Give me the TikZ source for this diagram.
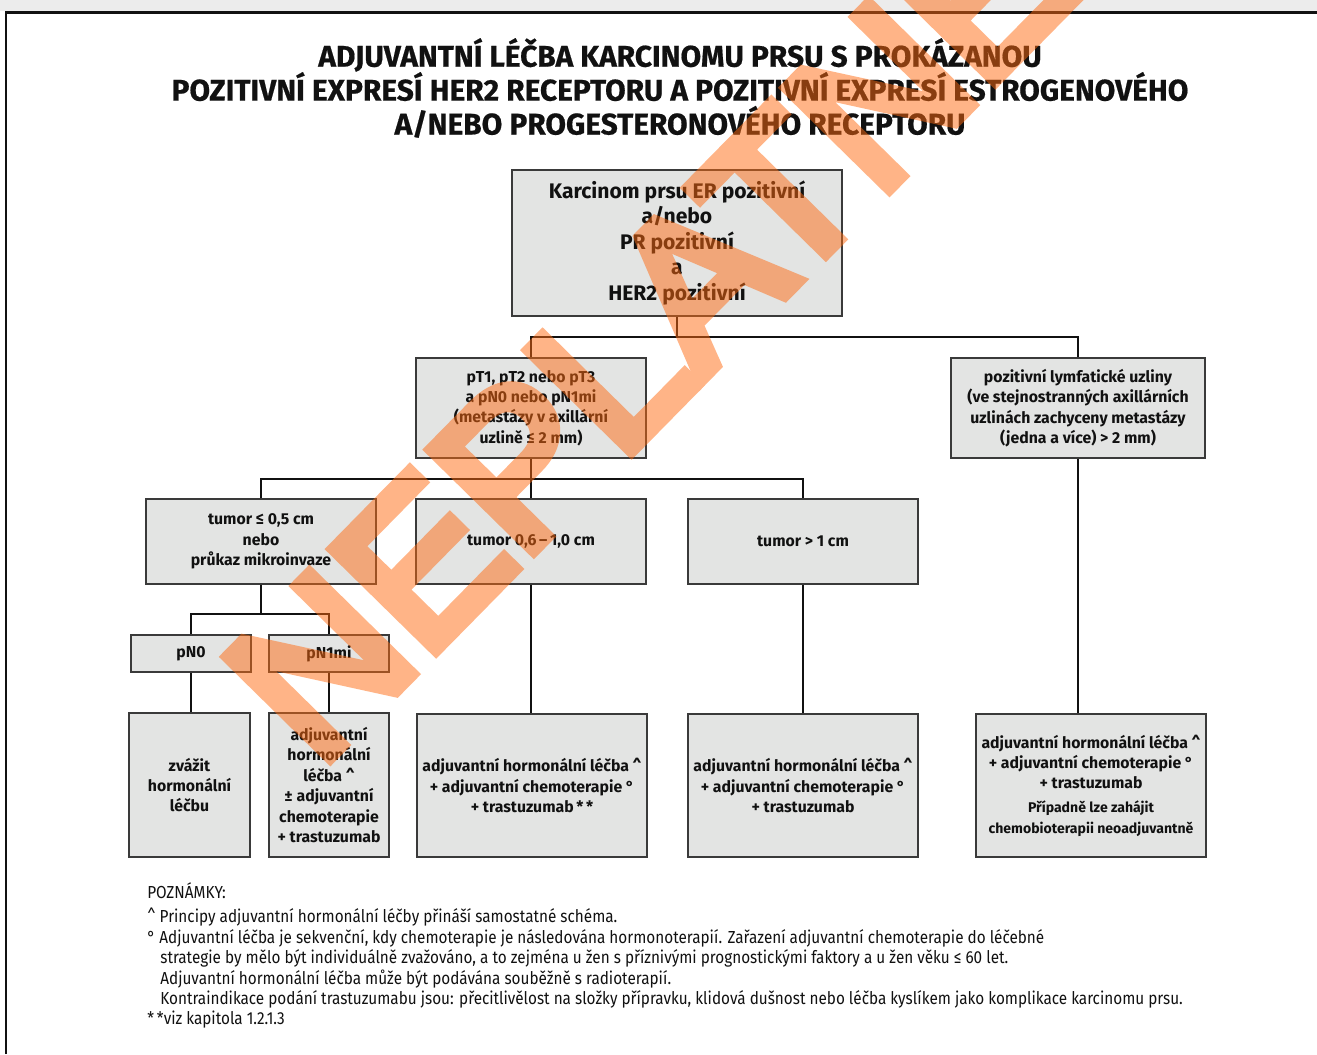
\documentclass[tikz,border=0pt]{standalone}
\usepackage{fontspec}
\setmainfont{Fira Sans}
\newfontfamily\notefont{Fira Sans}[FakeStretch=0.88]
\newfontfamily\titlefont{Fira Sans}[BoldFeatures={FakeBold=0.6}]
\newfontfamily\wmfont{Liberation Sans}[FakeBold=6]
\definecolor{boxfill}{HTML}{E3E4E3}
\definecolor{boxline}{HTML}{3A3A3A}
\definecolor{ink}{HTML}{111111}
\definecolor{wmorange}{HTML}{FF6A10}
\definecolor{strip}{HTML}{ECECEC}
\tikzset{
  sz/.style 2 args={minimum width=#1*0.02cm, minimum height=#2*0.02cm},
  box/.style={draw=boxline, fill=boxfill, line width=0.8pt, inner sep=0pt,
              align=center, text=ink},
  bigtxt/.style={font=\fontsize{12}{14.5}\selectfont\bfseries},
  smalltxt/.style={font=\fontsize{9}{11.6}\selectfont\bfseries},
  conn/.style={draw=ink, line width=0.8pt},
  note/.style={anchor=west, inner sep=0pt, text=ink,
               font=\notefont\fontsize{9.9}{11}\selectfont},
}
\begin{document}
\begin{tikzpicture}[x=0.02cm, y=-0.02cm]
% page area and frame
\useasboundingbox (0,0) rectangle (1317,1054);
\fill[white] (0,0) rectangle (1317,1054);
\fill[strip] (0,0) rectangle (1317,11);
\draw[line width=1.7pt, ink] (6,1054) -- (6,12.5) -- (1317,12.5);

% heading
\node[align=center, text=ink, font=\titlefont\fontsize{17}{19.3}\selectfont\bfseries] (title) at (680,88)
  {ADJUVANTNÍ LÉČBA KARCINOMU PRSU S PROKÁZANOU\\
   POZITIVNÍ EXPRESÍ HER2 RECEPTORU A POZITIVNÍ EXPRESÍ ESTROGENOVÉHO\\
   A/NEBO PROGESTERONOVÉHO RECEPTORU};

% decision boxes
\node[box, bigtxt, sz={330}{146}] (top) at (677,243)
  {Karcinom prsu ER pozitivní\\ a/nebo\\ PR pozitivní\\ a\\ HER2 pozitivní};
\node[box, smalltxt, sz={230}{100}] (small) at (531,408)
  {pT1, pT2 nebo pT3\\ a pN0 nebo pN1mi\\ (metastázy v axillární\\ uzlině ≤ 2 mm)};
\node[box, smalltxt, sz={254}{100}] (nodes) at (1078,408)
  {pozitivní lymfatické uzliny\\ (ve stejnostranných axillárních\\ uzlinách zachyceny metastázy\\ (jedna a více) > 2 mm)};
\node[box, smalltxt, sz={230}{85}] (tsmall) at (261,541.5)
  {tumor ≤ 0,5 cm\\ nebo\\ průkaz mikroinvaze};
\node[box, smalltxt, sz={230}{85}] (tmid) at (531,541.5) {tumor 0,6\,–\,1,0 cm};
\node[box, smalltxt, sz={230}{85}] (tbig) at (803,541.5) {tumor > 1 cm};
\node[box, smalltxt, sz={120}{37}] (pnzero) at (191,653.5) {pN0};
\node[box, smalltxt, sz={120}{37}] (pnmi) at (329,653.5) {pN1mi};

% therapy boxes
\node[box, smalltxt, sz={121}{144}] (thA) at (189.5,785)
  {zvážit\\ hormonální\\ léčbu};
\node[box, smalltxt, sz={120}{144}] (thB) at (329,785)
  {adjuvantní\\ hormonální\\ léčba \^{}\\ ± adjuvantní\\ chemoterapie\\ + trastuzumab};
\node[box, smalltxt, sz={230}{143}] (thC) at (532,785.5)
  {adjuvantní hormonální léčba \^{}\\ + adjuvantní chemoterapie °\\ + trastuzumab\,*\,*};
\node[box, smalltxt, sz={230}{143}] (thD) at (803,785.5)
  {adjuvantní hormonální léčba \^{}\\ + adjuvantní chemoterapie °\\ + trastuzumab};
\node[box, smalltxt, sz={230}{143}] (thE) at (1091,785.5)
  {adjuvantní hormonální léčba \^{}\\ + adjuvantní chemoterapie °\\ + trastuzumab\\[2pt]
   {\fontsize{8}{11.6}\selectfont Případně lze zahájit}\\
   {\fontsize{8}{11.6}\selectfont chemobioterapii neoadjuvantně}};

% bus junctions
\coordinate (busone) at (677,337);
\coordinate (bustwo) at (531,479);
\coordinate (busthree) at (261,614);

% connectors
\draw[conn] (top.south) -- (top.south |- busone);
\draw[conn] (small.north) -- (small.north |- busone) -- (nodes.north |- busone) -- (nodes.north);
\draw[conn] (small.south) -- (tmid.north);
\draw[conn] (tsmall.north) -- (tsmall.north |- bustwo) -- (tbig.north |- bustwo) -- (tbig.north);
\draw[conn] (tsmall.south) -- (tsmall.south |- busthree);
\draw[conn] (pnzero.north) -- (pnzero.north |- busthree) -- (pnmi.north |- busthree) -- (pnmi.north);
\draw[conn] (pnzero.south) -- (pnzero.south |- thA.north);
\draw[conn] (pnmi.south) -- (thB.north);
\draw[conn] (tmid.south) -- (tmid.south |- thC.north);
\draw[conn] (tbig.south) -- (thD.north);
\draw[conn] (nodes.south) -- (nodes.south |- thE.north);

% notes
\node[note] (nhead) at (147,891) {POZNÁMKY:};
\node[note] (none) at (147,917) {\^{} Principy adjuvantní hormonální léčby přináší samostatné schéma.};
\node[note] (ntwo) at (147,938) {° Adjuvantní léčba je sekvenční, kdy chemoterapie je následována hormonoterapií. Zařazení adjuvantní chemoterapie do léčebné};
\node[note] (nthree) at (160,958) {strategie by mělo být individuálně zvažováno, a to zejména u žen s příznivými prognostickými faktory a u žen věku ≤ 60 let.};
\node[note] (nfour) at (160,979) {Adjuvantní hormonální léčba může být podávána souběžně s radioterapií.};
\node[note] (nfive) at (160,999) {Kontraindikace podání trastuzumabu jsou: přecitlivělost na složky přípravku, klidová dušnost nebo léčba kyslíkem jako komplikace karcinomu prsu.};
\node[note] (nsix) at (147,1020) {*\,*viz kapitola 1.2.1.3};

% watermark stamp
\begin{scope}[transparency group, opacity=0.5]
\node[rotate=45.5, anchor=base west, text=wmorange, inner sep=0pt,
      font=\wmfont\fontsize{119}{119}\selectfont] (stamp) at (318,770) {NEPLATNÉ};
\end{scope}
\end{tikzpicture}
\end{document}
